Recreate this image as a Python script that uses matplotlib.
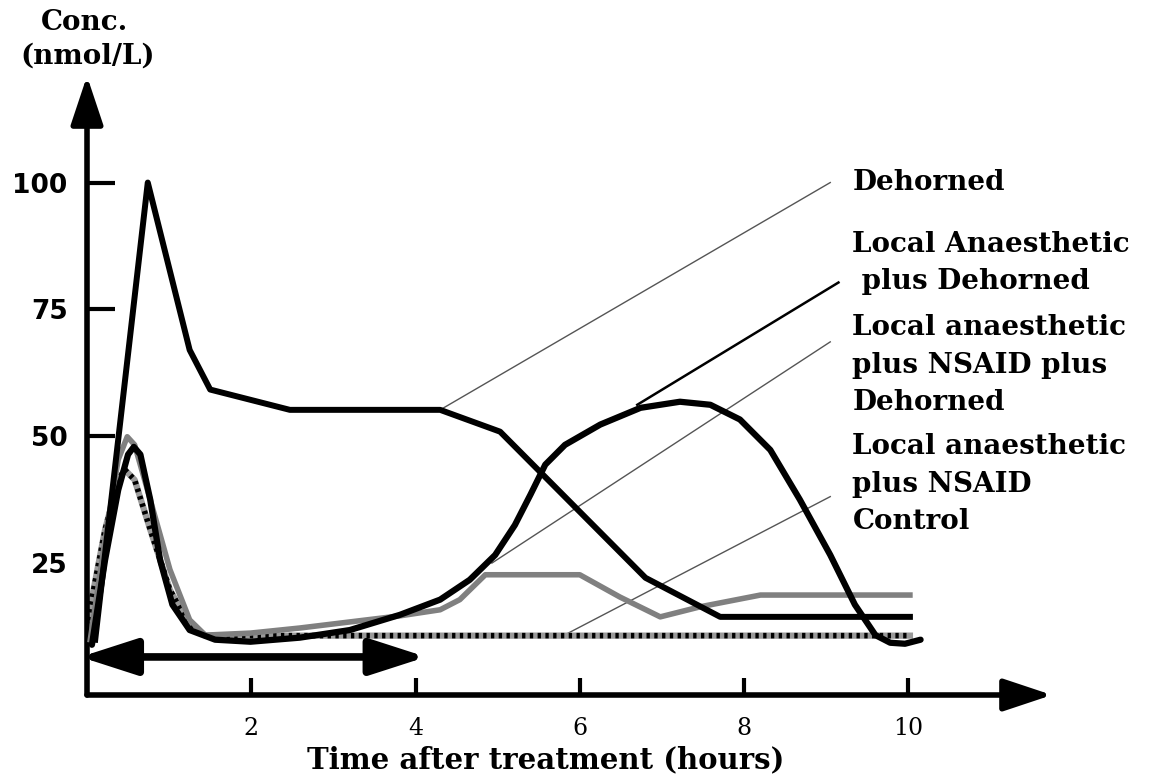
import matplotlib.pyplot as plt

# Data (time in hours, concentration in nmol/L)
dehorned_t = [0.10, 0.74, 1.25, 1.50, 2.47, 4.30, 5.03, 6.80, 7.71, 10.02]
dehorned_c = [9.9, 100.0, 67.0, 59.2, 55.2, 55.2, 50.9, 22.1, 14.4, 14.4]

la_dehorned_t = [0.06, 0.22, 0.38, 0.50, 0.57, 0.65, 0.77, 0.89, 1.04, 1.25,
                 1.56, 1.99, 2.59, 3.20, 3.81, 4.30, 4.66, 4.97, 5.21, 5.40,
                 5.58, 5.82, 6.25, 6.74, 7.22, 7.59, 7.95, 8.32, 8.68, 9.05,
                 9.35, 9.60, 9.78, 9.96, 10.15]
la_dehorned_c = [8.9, 25.6, 39.4, 46.4, 47.9, 46.4, 37.5, 25.6, 16.8, 11.8,
                 9.9, 9.5, 10.3, 11.8, 14.8, 17.8, 21.7, 26.6, 32.5, 38.5,
                 44.4, 48.3, 52.3, 55.6, 56.8, 56.2, 53.3, 47.3, 37.5, 26.6,
                 16.8, 10.8, 9.3, 9.1, 9.9]

la_nsaid_dehorned_t = [0.04, 0.22, 0.38, 0.49, 0.58, 0.77, 1.01, 1.25, 1.44, 1.99,
                       2.59, 3.20, 3.81, 4.30, 4.54, 4.85, 6.00, 6.49, 6.98, 7.47,
                       8.20, 10.02]
la_nsaid_dehorned_c = [9.9, 29.6, 45.4, 49.9, 48.3, 37.5, 23.7, 13.8, 10.8, 11.2,
                       12.2, 13.4, 14.6, 15.8, 17.8, 22.7, 22.7, 18.3, 14.4, 16.4,
                       18.7, 18.7]

la_nsaid_t = [0.01, 0.22, 0.38, 0.46, 0.58, 0.77, 1.01, 1.25, 1.44, 10.02]
la_nsaid_c = [13.8, 31.6, 41.4, 43.4, 41.4, 31.6, 19.7, 12.8, 10.7, 10.7]

x_ticks = [2, 4, 6, 8, 10]
y_ticks = [25, 50, 75, 100]

# label text, y of first line, leader line start/end, leader colour, width
labels = [
    ("Dehorned", 100.0, (4.30, 55.2), (9.05, 100.0), '#555555', 1.0),
    ("Local Anaesthetic\n plus Dehorned", 87.8, (6.70, 56.2), (9.15, 80.3), 'black', 1.8),
    ("Local anaesthetic\nplus NSAID plus\nDehorned", 71.4, (4.93, 25.0), (9.05, 68.6), '#555555', 1.0),
    ("Local anaesthetic\nplus NSAID\nControl", 47.9, (5.80, 10.7), (9.05, 38.1), '#555555', 1.0),
]

fig = plt.figure(figsize=(11.52, 7.8), dpi=100)
ax = fig.add_axes([87 / 1152, 85 / 780, 965 / 1152, 619 / 780])
ax.set_xlim(0, 11.75)
ax.set_ylim(-1, 121)
for s in ax.spines.values():
    s.set_visible(False)

serif = 'DejaVu Serif'

# axes with arrow heads
arrow = dict(arrowstyle='-|>,head_length=1.35,head_width=0.45', color='black',
             lw=4, mutation_scale=22, shrinkA=0, shrinkB=0)
ax.annotate('', xy=(11.75, -1), xytext=(0, -1), arrowprops=arrow, annotation_clip=False)
ax.annotate('', xy=(0, 121), xytext=(0, -1), arrowprops=arrow, annotation_clip=False)

# ticks
ax.set_xticks(x_ticks)
ax.set_xticklabels([str(t) for t in x_ticks], family=serif, fontsize=17)
ax.tick_params(axis='x', direction='in', length=12, width=3, pad=16)
ax.set_yticks(y_ticks)
ax.set_yticklabels([str(t) for t in y_ticks], family='DejaVu Sans',
                   fontweight='bold', fontsize=19)
ax.tick_params(axis='y', direction='in', length=20, width=3, pad=14)
ax.yaxis.get_major_ticks()[0].tick1line.set_visible(False)

# leader lines and labels
for text, ty, p0, p1, col, lw in labels:
    ax.plot([p0[0], p1[0]], [p0[1], p1[1]], color=col, lw=lw, zorder=1)
    for i, line in enumerate(text.split('\n')):
        ax.text(9.32, ty - i * 7.4, line, family=serif, fontweight='bold',
                fontsize=20, va='center', ha='left', clip_on=False)

# curves
ax.plot(la_nsaid_t, la_nsaid_c, color='#9a9a9a', lw=4.5, zorder=2)
ax.plot(la_nsaid_t, la_nsaid_c, color='black', lw=4, dashes=(0.6, 0.8), zorder=2)
ax.plot(la_nsaid_dehorned_t, la_nsaid_dehorned_c, color='#808080', lw=4, zorder=3)
ax.plot(dehorned_t, dehorned_c, color='black', lw=4.3, zorder=4)
ax.plot(la_dehorned_t, la_dehorned_c, color='black', lw=4.5, zorder=5,
        solid_joinstyle='round', solid_capstyle='round')

# double headed arrow (treatment window)
ax.annotate('', xy=(4.13, 6.5), xytext=(-0.08, 6.5), annotation_clip=False,
            arrowprops=dict(arrowstyle='<|-|>,head_length=1.55,head_width=0.5',
                            color='black', lw=5.5, mutation_scale=22,
                            shrinkA=0, shrinkB=0))

fig.text(85 / 1152, 1 - 22 / 780, "Conc.", family=serif, fontweight='bold',
         fontsize=20, ha='center', va='center')
fig.text(88 / 1152, 1 - 56 / 780, "(nmol/L)", family=serif, fontweight='bold',
         fontsize=20, ha='center', va='center')
fig.text(546 / 1152, 1 - 760 / 780, "Time after treatment (hours)", family=serif,
         fontweight='bold', fontsize=21, ha='center', va='center')

fig.savefig('out.png', dpi=100)
